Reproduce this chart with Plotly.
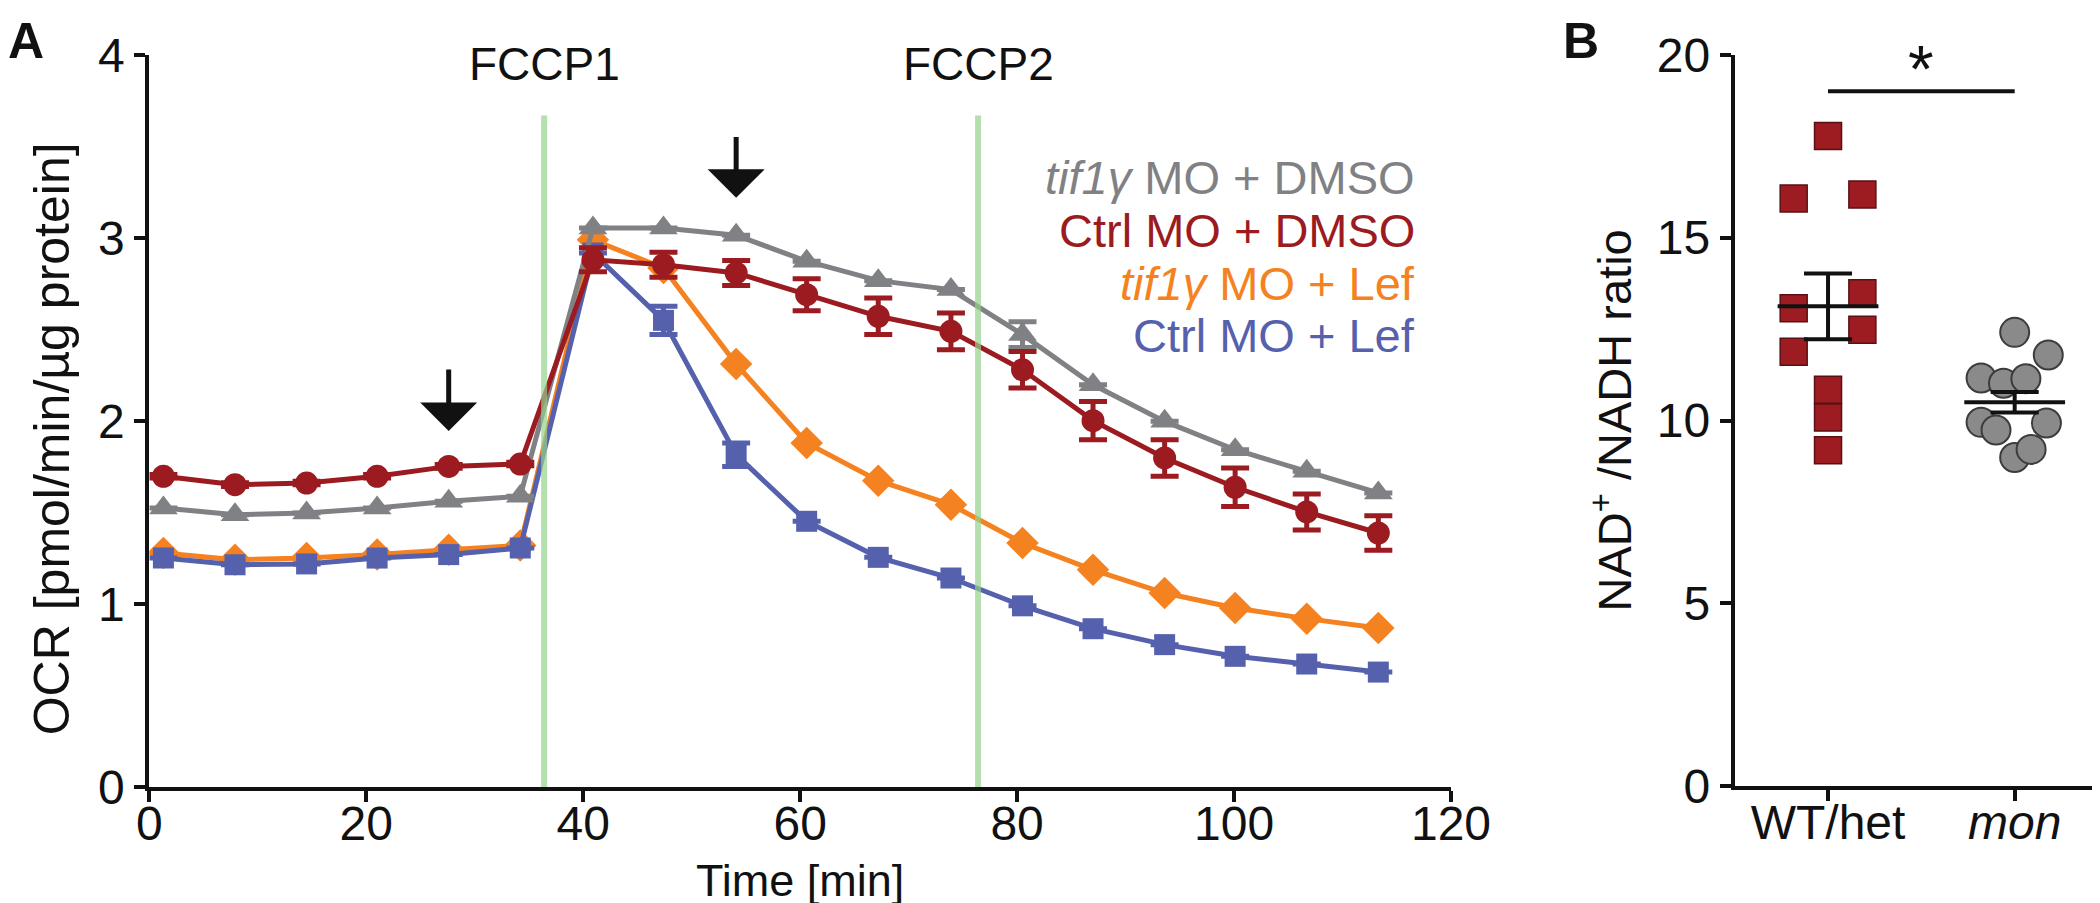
import plotly.graph_objects as go

# ---------------- Panel A data ----------------
time_min = [1.3, 7.9, 14.5, 21.0, 27.6, 34.2, 40.9, 47.4, 54.1, 60.6, 67.2, 73.9,
            80.5, 87.0, 93.6, 100.1, 106.7, 113.3]
tif_dmso = [1.525, 1.488, 1.497, 1.525, 1.561, 1.589, 3.055, 3.055, 3.015, 2.873, 2.767, 2.718,
            2.472, 2.198, 1.998, 1.843, 1.725, 1.607]
tif_dmso_err = [0, 0, 0, 0, 0, 0, 0, 0, 0, 0, 0, 0, 0.07, 0, 0, 0, 0, 0]
ctrl_dmso = [1.698, 1.652, 1.661, 1.698, 1.752, 1.765, 2.881, 2.854, 2.809, 2.69, 2.572, 2.49,
             2.28, 2.002, 1.798, 1.638, 1.503, 1.388]
ctrl_dmso_err = [0.01, 0.01, 0.01, 0.01, 0.01, 0.01, 0.066, 0.068, 0.068, 0.087, 0.1, 0.1,
                 0.1, 0.104, 0.1, 0.105, 0.098, 0.094]
tif_lef = [1.279, 1.242, 1.251, 1.27, 1.297, 1.32, 2.99, 2.836, 2.311, 1.880, 1.674, 1.543,
           1.333, 1.187, 1.06, 0.978, 0.920, 0.869]
ctrl_lef = [1.251, 1.215, 1.219, 1.251, 1.27, 1.306, 2.918, 2.55, 1.816, 1.452, 1.255, 1.142,
            0.99, 0.865, 0.778, 0.714, 0.672, 0.628]
ctrl_lef_err = [0, 0, 0, 0, 0, 0, 0, 0.077, 0.064, 0, 0, 0, 0, 0, 0, 0, 0, 0]

fccp_times = [36.4, 76.4]
fccp_labels = ["FCCP1", "FCCP2"]
fccp_top = 3.67
arrow_x = [27.6, 54.1]
arrow_tip = [1.945, 3.22]
arrow_tail = [2.29, 3.56]

legend_labels = ["<i>tif1γ</i> MO + DMSO", "Ctrl MO + DMSO", "<i>tif1γ</i> MO + Lef", "Ctrl MO + Lef"]
legend_y = [3.33, 3.04, 2.75, 2.465]

# ---------------- Panel B data ----------------
groups = ["WT/het", "<i>mon</i>"]
wt_vals = [17.78, 16.07, 16.18, 13.07, 13.48, 12.48, 11.88, 10.84, 10.08, 9.19]
wt_jitter = [0, -0.184, 0.184, -0.184, 0.184, 0.184, -0.184, 0, 0, 0]
mon_vals = [12.41, 11.79, 11.16, 11.02, 11.14, 9.95, 9.74, 9.93, 8.99, 9.21]
mon_jitter = [0, 0.18, -0.18, -0.06, 0.06, -0.18, -0.1, 0.17, 0, 0.088]
group_mean = [13.12, 10.5]
group_sem = [0.9, 0.28]
sig_y = 19.0
sig_label = "*"

# ---------------- styling ----------------
GRAY = "#808184"
RED = "#9b1b20"
ORANGE = "#f58220"
BLUE = "#5561ad"
FONT = "Liberation Sans, Arial, sans-serif"
W, H = 2100, 903

fig = go.Figure()


def series(y, color, symbol, size, err=None):
    kw = {}
    if err is not None:
        kw["error_y"] = dict(type="data", array=err, visible=True, color=color,
                             thickness=5, width=14)
    fig.add_trace(go.Scatter(
        x=time_min, y=y, mode="lines+markers",
        line=dict(color=color, width=5),
        marker=dict(color=color, symbol=symbol, size=size),
        showlegend=False, xaxis="x", yaxis="y", **kw))


series(tif_lef, ORANGE, "diamond", 25)
series(ctrl_lef, BLUE, "square", 21, ctrl_lef_err)
series(tif_dmso, GRAY, "triangle-up", 25, tif_dmso_err)
series(ctrl_dmso, RED, "circle", 23, ctrl_dmso_err)

# Panel B points
fig.add_trace(go.Scatter(
    x=[0 + j for j in wt_jitter], y=wt_vals, mode="markers",
    marker=dict(symbol="square", size=27, color="#9d1c21",
                line=dict(color="#5a1013", width=1.5)),
    showlegend=False, xaxis="x2", yaxis="y2"))
fig.add_trace(go.Scatter(
    x=[1 + j for j in mon_jitter], y=mon_vals, mode="markers",
    marker=dict(symbol="circle", size=29, color="#8a8a8a",
                line=dict(color="#3c3c3c", width=2)),
    showlegend=False, xaxis="x2", yaxis="y2"))

# mean lines and SEM
for i, (m, s) in enumerate(zip(group_mean, group_sem)):
    fig.add_trace(go.Scatter(
        x=[i - 0.27, i + 0.27], y=[m, m], mode="lines",
        line=dict(color="#111111", width=4), showlegend=False,
        xaxis="x2", yaxis="y2"))
    fig.add_trace(go.Scatter(
        x=[i], y=[m], mode="markers", marker=dict(size=1, color="rgba(0,0,0,0)"),
        error_y=dict(type="data", array=[s], visible=True, color="#111111",
                     thickness=4, width=24),
        showlegend=False, xaxis="x2", yaxis="y2"))

# significance bar
fig.add_trace(go.Scatter(
    x=[0, 1], y=[sig_y, sig_y], mode="lines",
    line=dict(color="#111111", width=4), showlegend=False,
    xaxis="x2", yaxis="y2"))

shapes = []
for t in fccp_times:
    shapes.append(dict(type="line", xref="x", yref="y", x0=t, x1=t, y0=0, y1=fccp_top,
                       line=dict(color="rgba(150,210,140,0.7)", width=6), layer="above"))

annotations = []
for t, lab in zip(fccp_times, fccp_labels):
    annotations.append(dict(x=t, y=3.95, xref="x", yref="y", text=lab, showarrow=False,
                            font=dict(family=FONT, size=46, color="#111111"),
                            xanchor="center", yanchor="middle"))
for xa, tip, tail in zip(arrow_x, arrow_tip, arrow_tail):
    annotations.append(dict(x=xa, y=tip, ax=xa, ay=tail, xref="x", yref="y",
                            axref="x", ayref="y", text="", showarrow=True,
                            arrowhead=1, arrowsize=1.9, arrowwidth=5,
                            arrowcolor="#111111", standoff=0, startstandoff=0))
for lab, yy, col in zip(legend_labels, legend_y, [GRAY, RED, ORANGE, BLUE]):
    annotations.append(dict(x=116.9, y=yy, xref="x", yref="y", text=lab, showarrow=False,
                            font=dict(family=FONT, size=47, color=col),
                            xanchor="right", yanchor="middle"))

# axis titles
annotations.append(dict(x=60, y=1 - 872 / H, xref="x", yref="paper", text="Time [min]",
                        showarrow=False, font=dict(family=FONT, size=45, color="#111111"),
                        xanchor="center", yanchor="middle"))
annotations.append(dict(x=44 / W, y=1.9, xref="paper", yref="y",
                        text="OCR [pmol/min/µg protein]", textangle=-90, showarrow=False,
                        font=dict(family=FONT, size=50, color="#111111"),
                        xanchor="center", yanchor="middle"))
annotations.append(dict(x=1603 / W, y=10, xref="paper", yref="y2",
                        text="NAD<sup>+</sup> /NADH ratio", textangle=-90, showarrow=False,
                        font=dict(family=FONT, size=47, color="#111111"),
                        xanchor="center", yanchor="middle"))
annotations.append(dict(x=0.5, y=19.62, xref="x2", yref="y2", text=sig_label,
                        showarrow=False, font=dict(family=FONT, size=66, color="#111111"),
                        xanchor="center", yanchor="middle"))
# panel letters
annotations.append(dict(x=18 / W, y=1 - 33 / H, xref="paper", yref="paper", text="<b>A</b>",
                        showarrow=False, font=dict(family=FONT, size=50, color="#111111"),
                        xanchor="center", yanchor="middle"))
annotations.append(dict(x=1573 / W, y=1 - 33 / H, xref="paper", yref="paper", text="<b>B</b>",
                        showarrow=False, font=dict(family=FONT, size=50, color="#111111"),
                        xanchor="center", yanchor="middle"))

axis_common = dict(showgrid=False, zeroline=False, showline=True, linecolor="#111111",
                   linewidth=4, ticks="outside", ticklen=11, tickwidth=4,
                   tickcolor="#111111", automargin=False,
                   tickfont=dict(family=FONT, size=48, color="#111111"))

fig.update_layout(
    width=W, height=H,
    margin=dict(l=0, r=0, t=0, b=0),
    paper_bgcolor="white", plot_bgcolor="white",
    xaxis=dict(domain=[141.3 / W, 1443 / W], range=[0, 120], tickvals=[0, 20, 40, 60, 80, 100, 120],
               anchor="y", ticklabelstandoff=-20, **axis_common),
    yaxis=dict(domain=[1 - 779 / H, 1 - 47 / H], range=[0, 4], tickvals=[0, 1, 2, 3, 4],
               anchor="x", **axis_common),
    xaxis2=dict(domain=[1726.7 / W, 1.0], range=[-0.5, 1.5], tickvals=[0, 1], ticktext=groups,
                anchor="y2", ticklabelstandoff=-20, **axis_common),
    yaxis2=dict(domain=[1 - 778.3 / H, 1 - 46.7 / H], range=[0, 20], tickvals=[0, 5, 10, 15, 20],
                anchor="x2", **axis_common),
    shapes=shapes,
    annotations=annotations,
)

fig.write_html("out.html")
